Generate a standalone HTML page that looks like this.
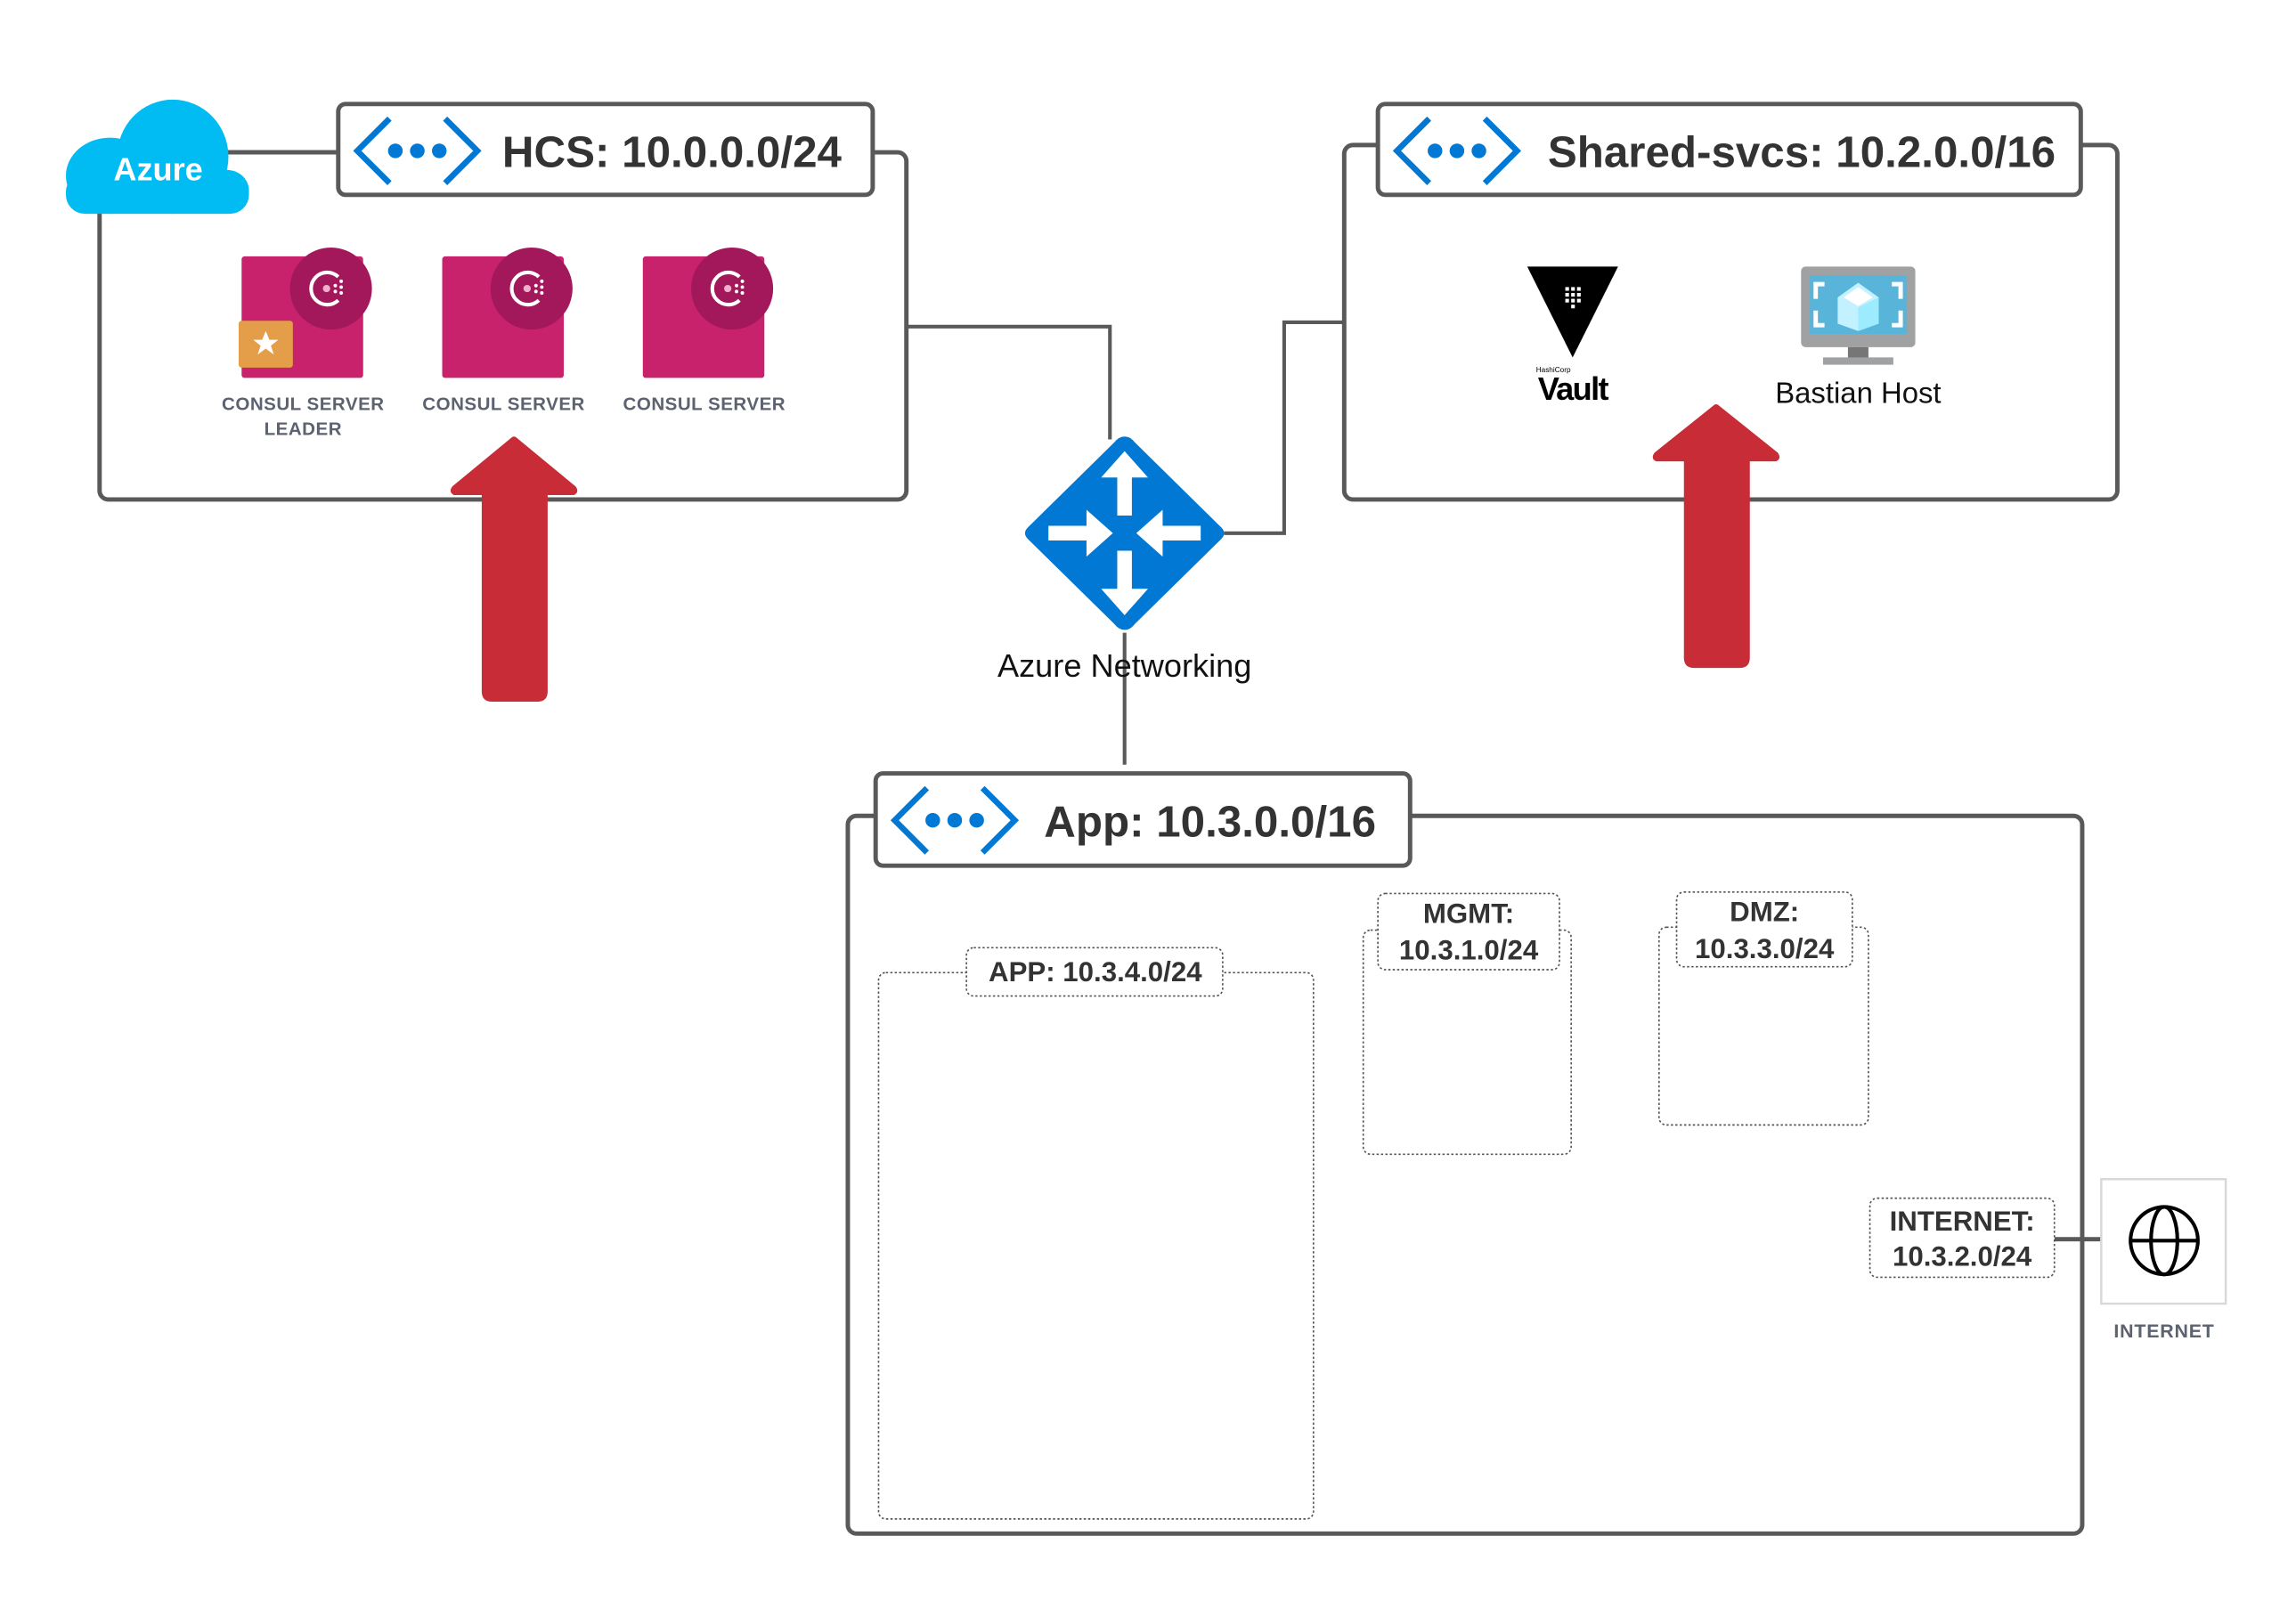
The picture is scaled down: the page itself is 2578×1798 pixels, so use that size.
<!DOCTYPE html>
<html><head><meta charset="utf-8"><style>
html,body{margin:0;padding:0;background:#fff;}
svg{display:block;}
text{font-family:"Liberation Sans",Arial,sans-serif;}
</style></head><body>
<svg width="2578" height="1798" viewBox="0 0 1568 1093" preserveAspectRatio="none" xmlns="http://www.w3.org/2000/svg">
<defs>
<g id="vnet">
<path d="M26 -22 L4 0 L26 22" fill="none" stroke="#0078d4" stroke-width="4"/>
<path d="M64 -22 L86 0 L64 22" fill="none" stroke="#0078d4" stroke-width="4"/>
<circle cx="30" cy="0" r="5" fill="#0078d4"/><circle cx="45" cy="0" r="5" fill="#0078d4"/><circle cx="60" cy="0" r="5" fill="#0078d4"/>
</g>
<g id="consul">
<rect x="0" y="0" width="83" height="83" rx="2" fill="#c9226d"/>
<circle cx="61" cy="22" r="28" fill="#a3185a"/>
<path d="M66 14 A11 11 0 1 0 66 30" fill="none" stroke="#fff" stroke-width="2.5"/>
<circle cx="58" cy="22" r="2.5" fill="#f0b0cc"/>
<circle cx="64" cy="20" r="1.2" fill="#fff"/><circle cx="64" cy="24" r="1.2" fill="#fff"/>
<circle cx="68" cy="17" r="1.2" fill="#fff"/><circle cx="68" cy="21" r="1.2" fill="#fff"/><circle cx="68" cy="25" r="1.2" fill="#fff"/>
</g>
</defs>
<g fill="none" stroke="#595959" stroke-width="3">
<path d="M155 104 H231"/>
<path d="M619 223 H758 V300" stroke-width="2.5"/>
<path d="M836 364 H877 V220 H918" stroke-width="2.5"/>
<path d="M768 432 V522" stroke-width="2.5"/>
<path d="M1403 846 H1435"/>
<rect x="68" y="104" width="551" height="237" rx="6"/>
<rect x="918" y="99" width="528" height="242" rx="6"/>
<rect x="579" y="557" width="843" height="490" rx="6"/>
</g>
<g fill="#fff" stroke="#595959" stroke-width="3">
<rect x="231" y="71" width="365" height="62" rx="5"/>
<rect x="941" y="71" width="480" height="62" rx="5"/>
<rect x="598" y="528" width="365" height="63" rx="5"/>
</g>
<use href="#vnet" x="240" y="103"/>
<use href="#vnet" x="950" y="103"/>
<use href="#vnet" x="607" y="560"/>
<g font-weight="bold" fill="#333" font-size="30">
<text x="343" y="114">HCS: 10.0.0.0/24</text>
<text x="1057" y="114">Shared-svcs: 10.2.0.0/16</text>
<text x="713" y="571">App: 10.3.0.0/16</text>
</g>
<g fill="#00bcf2">
<ellipse cx="118" cy="107" rx="38" ry="39"/>
<ellipse cx="75" cy="120" rx="30" ry="26"/>
<ellipse cx="155" cy="130" rx="15" ry="14"/>
<rect x="45" y="118" width="125" height="28" rx="13"/>
</g>
<text x="108" y="123" fill="#fff" font-weight="bold" font-size="22" text-anchor="middle">Azure</text>
<use href="#consul" x="165" y="175"/>
<use href="#consul" x="302" y="175"/>
<use href="#consul" x="439" y="175"/>
<rect x="163" y="219" width="37" height="32" rx="2" fill="#e49e4a"/>
<polygon points="181.5,226 184,232 190,232 185,236 187,242 181.5,238 176,242 178,236 173,232 179,232" fill="#fff"/>
<g fill="#5d6270" font-size="12.5" font-weight="bold" text-anchor="middle" letter-spacing="0.3">
<text x="207" y="280">CONSUL SERVER</text>
<text x="207" y="297">LEADER</text>
<text x="344" y="280">CONSUL SERVER</text>
<text x="481" y="280">CONSUL SERVER</text>
</g>
<g fill="#c72c37">
<path d="M329 338 H310 Q306 336 309 332 L349 299 Q351 297 353 299 L393 332 Q396 336 392 338 H374 V472 Q374 479 367 479 H336 Q329 479 329 472 Z"/>
<path d="M1150 315 H1131 Q1127 313 1130 309 L1170 277 Q1172 275 1174 277 L1214 309 Q1217 313 1213 315 H1195 V449 Q1195 456 1188 456 H1157 Q1150 456 1150 449 Z"/>
</g>
<polygon points="1043,182 1105,182 1074,244" fill="#000"/>
<g fill="#fff">
<rect x="1069" y="196" width="2.5" height="2.5"/><rect x="1073" y="196" width="2.5" height="2.5"/><rect x="1077" y="196" width="2.5" height="2.5"/>
<rect x="1069" y="200" width="2.5" height="2.5"/><rect x="1073" y="200" width="2.5" height="2.5"/><rect x="1077" y="200" width="2.5" height="2.5"/>
<rect x="1069" y="204" width="2.5" height="2.5"/><rect x="1073" y="204" width="2.5" height="2.5"/><rect x="1077" y="204" width="2.5" height="2.5"/>
<rect x="1073" y="208" width="2.5" height="2.5"/>
</g>
<text x="1049" y="254" font-size="5" fill="#000">HashiCorp</text>
<text x="1074" y="273" font-size="22" font-weight="bold" fill="#000" text-anchor="middle" letter-spacing="-1">Vault</text>
<rect x="1230" y="182" width="78" height="55" rx="3" fill="#a0a1a2"/>
<rect x="1236" y="188" width="66" height="40" fill="#59b4d9"/>
<g fill="none" stroke="#fff" stroke-width="3">
<path d="M1246 194 H1240 V204 M1292 194 H1298 V204 M1246 222 H1240 V212 M1292 222 H1298 V212"/>
</g>
<polygon points="1269,193 1283,203 1283,221 1269,226 1255,221 1255,203" fill="#c3f1ff"/>
<polygon points="1269,210 1283,203 1283,221 1269,226" fill="#9cebff"/>
<polygon points="1269,196 1279,203 1269,209 1259,203" fill="#fff"/>
<rect x="1262" y="237" width="14" height="8" fill="#767676"/>
<rect x="1245" y="244" width="48" height="5" fill="#a0a1a2"/>
<text x="1269" y="275" font-size="20" fill="#111" text-anchor="middle">Bastian Host</text>
<path d="M768 298 Q772 298 775 302 L834 360 Q838 364 834 368 L775 426 Q772 430 768 430 Q764 430 761 426 L702 368 Q698 364 702 360 L761 302 Q764 298 768 298Z" fill="#0078d4"/>
<g fill="#fff">
<polygon points="768,308 784,326 773,326 773,352 763,352 763,326 752,326"/>
<polygon points="768,420 784,402 773,402 773,376 763,376 763,402 752,402"/>
<polygon points="760,364 742,348 742,359 716,359 716,369 742,369 742,380"/>
<polygon points="776,364 794,348 794,359 820,359 820,369 794,369 794,380"/>
</g>
<text x="768" y="462" font-size="22" fill="#111" text-anchor="middle">Azure Networking</text>
<g fill="none" stroke="#555" stroke-width="1" stroke-dasharray="1.5 1.5">
<rect x="600" y="664" width="297" height="373" rx="5"/>
<rect x="931" y="635" width="142" height="153" rx="5"/>
<rect x="1133" y="633" width="143" height="135" rx="5"/>
</g>
<g fill="#fff" stroke="#555" stroke-width="1" stroke-dasharray="1.5 1.5">
<rect x="660" y="647" width="175" height="33" rx="5"/>
<rect x="941" y="610" width="124" height="52" rx="5"/>
<rect x="1145" y="609" width="120" height="51" rx="5"/>
<rect x="1277" y="818" width="126" height="54" rx="5"/>
</g>
<g font-size="19" font-weight="bold" fill="#333" text-anchor="middle">
<text x="748" y="670">APP: 10.3.4.0/24</text>
<text x="1003" y="630">MGMT:</text>
<text x="1003" y="655">10.3.1.0/24</text>
<text x="1205" y="629">DMZ:</text>
<text x="1205" y="654">10.3.3.0/24</text>
<text x="1340" y="840">INTERNET:</text>
<text x="1340" y="864">10.3.2.0/24</text>
</g>
<rect x="1435" y="805" width="85" height="85" fill="#fff" stroke="#d8d8d8" stroke-width="1.5"/>
<g fill="none" stroke="#000" stroke-width="2.5">
<circle cx="1478" cy="847" r="23"/>
<ellipse cx="1478" cy="847" rx="9" ry="23"/>
<line x1="1455" y1="847" x2="1501" y2="847"/>
</g>
<text x="1478" y="913" font-size="13" font-weight="bold" fill="#5d6270" text-anchor="middle" letter-spacing="0.5">INTERNET</text>
</svg>
</body></html>
